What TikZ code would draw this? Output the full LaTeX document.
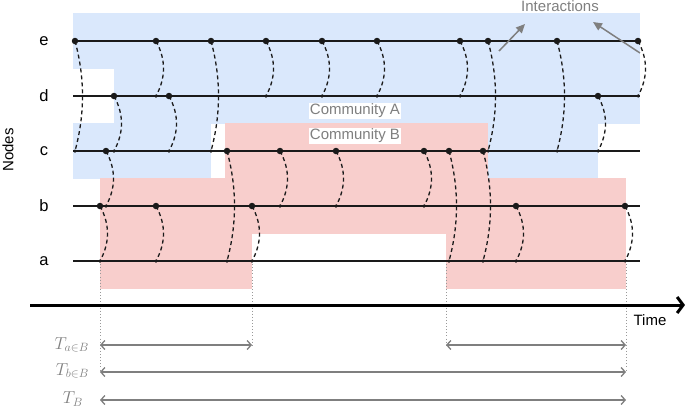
\documentclass[tikz,border=0pt]{standalone}
\usepackage{fontspec}
\newfontfamily\sansf{Liberation Sans}
\usetikzlibrary{arrows.meta}
\definecolor{commA}{HTML}{DAE8FC}
\definecolor{commB}{HTML}{F8CECC}
\definecolor{annot}{HTML}{7F7F7F}
\definecolor{ink}{HTML}{1A1A1A}
\begin{document}
\begin{tikzpicture}[x=1pt,y=-1pt,
  lbl/.style={font=\sansf\fontsize{15}{18}\selectfont, inner sep=1pt, text=black},
  nodelbl/.style={font=\sansf\fontsize{16.5}{19}\selectfont, inner sep=1pt, text=black},
  commlbl/.style={font=\sansf\fontsize{15}{18}\selectfont, inner sep=1pt, text=annot, fill=white},
  mathlbl/.style={font=\fontsize{16.5}{19}\selectfont, inner sep=1pt, text=annot, anchor=east},
  nodeline/.style={draw=ink, line width=1.5pt},
  inter/.style={draw=ink, line width=1.3pt, dash pattern=on 4pt off 3pt},
  bigdot/.style={circle, fill=ink, inner sep=0pt, minimum size=6.5pt},
  smalldot/.style={circle, fill=ink, inner sep=0pt, minimum size=3.5pt},
  guide/.style={draw=annot!80, line width=0.9pt, dash pattern=on 0.9pt off 2.2pt},
  span/.style={draw=annot, line width=1.3pt, {Straight Barb[length=4pt,width=9pt]}-{Straight Barb[length=4pt,width=9pt]}},
  pointer/.style={draw=annot, line width=1.5pt, -{Triangle[length=9pt,width=8pt]}}]
\useasboundingbox (0,0) rectangle (685,408);
% communities
\fill[commA] (73,13) rectangle (640,68.5);
\fill[commA] (114,68) rectangle (640,123.5);
\fill[commA] (73,123) rectangle (211,178.5);
\fill[commA] (488,123) rectangle (598,178.5);
\fill[commB] (225,123) rectangle (488,178.5);
\fill[commB] (100,178) rectangle (626,233.5);
\fill[commB] (100,233) rectangle (252,289);
\fill[commB] (446,233) rectangle (626,289);
% guides
\coordinate (g1t) at (100,261); \coordinate (g1b) at (100,372);
\coordinate (g2t) at (252,261); \coordinate (g2b) at (252,345);
\coordinate (g3t) at (446,261); \coordinate (g3b) at (446,345);
\coordinate (g4t) at (626,261); \coordinate (g4b) at (626,372);
\draw[guide] (g1t) -- (g1b);
\draw[guide] (g2t) -- (g2b);
\draw[guide] (g3t) -- (g3b);
\draw[guide] (g4t) -- (g4b);
% node lines
\foreach \nm/\y in {e/41,d/96,c/151,b/206,a/261}{
  \coordinate (\nm L) at (73,\y);
  \coordinate (\nm R) at (640,\y);
  \draw[nodeline] (\nm L) -- (\nm R);
  \node[nodelbl] (lab\nm) at (44,\y) {\nm};
}
\node[lbl, rotate=90] (nodeslab) at (8,150) {Nodes};
% interactions
\foreach \n/\x/\ys/\yt in {1/75/41/151, 2/106/151/206, 3/100/206/261, 4/114/96/151,
  5/156/41/96, 6/156/206/261, 7/169/96/151, 8/211/41/151, 9/227/151/261,
  10/252/206/261, 11/266/41/96, 12/280/151/206, 13/322/41/96, 14/336/151/206,
  15/377/41/96, 16/424/151/206, 17/449/151/261, 18/460/41/96, 19/483/151/261,
  20/488/41/151, 21/516/206/261, 22/557/41/151, 23/598/96/151, 24/625/206/261,
  25/638/41/96}{
  \node[bigdot] (s\n) at (\x,\ys) {};
  \node[smalldot] (t\n) at (\x,\yt) {};
  \draw[inter] (s\n.center) .. controls +(10,{(\yt-\ys)/3}) and +(10,{-(\yt-\ys)/3}) .. (t\n.center);
}
% community labels
\node[commlbl] (cA) at (355,111) {Community A};
\node[commlbl] (cB) at (355,136) {Community B};
% interactions label
\node[commlbl, fill=none] (intl) at (560,6) {Interactions};
\coordinate (p1s) at (499,51); \coordinate (p1e) at (525,24);
\coordinate (p2s) at (640,53); \coordinate (p2e) at (593,22);
\draw[pointer] (p1s) -- (p1e);
\draw[pointer] (p2s) -- (p2e);
% time axis
\coordinate (t0) at (30,305); \coordinate (t1) at (685,305);
\draw[line width=3pt, -{Straight Barb[length=6pt,width=16pt]}] (t0) -- (t1);
\node[lbl] (timelab) at (650,320) {Time};
% spans
\coordinate (aB1l) at (100,345); \coordinate (aB1r) at (252,345);
\coordinate (aB2l) at (446,345); \coordinate (aB2r) at (626,345);
\coordinate (bBl) at (100,372); \coordinate (bBr) at (626,372);
\coordinate (Bl) at (100,400); \coordinate (Br) at (626,400);
\draw[span] (aB1l) -- (aB1r);
\draw[span] (aB2l) -- (aB2r);
\draw[span] (bBl) -- (bBr);
\draw[span] (Bl) -- (Br);
\node[mathlbl] (laB) at (90,345) {$T_{a\in B}$};
\node[mathlbl] (lbB) at (90,371) {$T_{b\in B}$};
\node[mathlbl] (lB) at (84,399) {$T_{B}$};
\end{tikzpicture}
\end{document}
